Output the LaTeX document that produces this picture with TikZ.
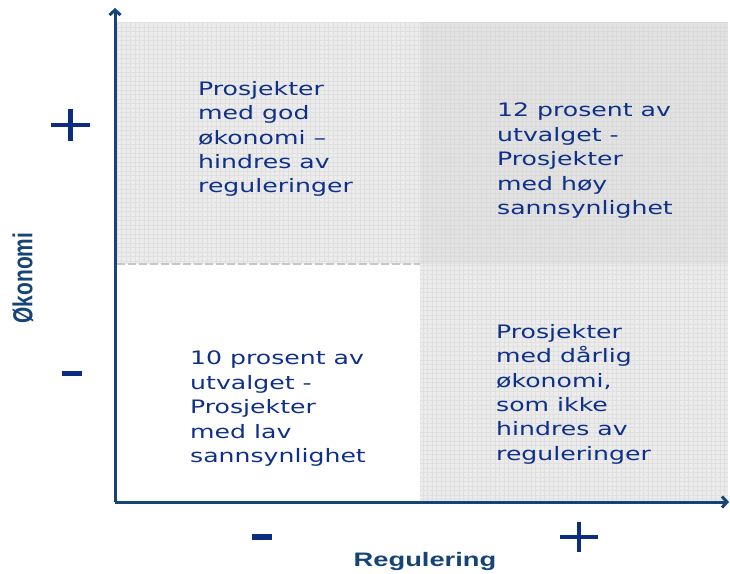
\documentclass[tikz,border=0pt]{standalone}
\usepackage{fontspec}
\usetikzlibrary{arrows.meta}
\newfontfamily\bodyfont[FakeStretch=1.36]{DejaVu Sans}
\newfontfamily\labelfont[FakeStretch=1.4]{Liberation Sans}
\newfontfamily\ylabelfont{Liberation Sans}
\definecolor{txtblue}{RGB}{14,48,136}
\definecolor{axisblue}{RGB}{22,68,118}
\definecolor{signblue}{RGB}{12,44,130}
\definecolor{cellA}{RGB}{236,236,236}
\definecolor{cellB}{RGB}{226,226,226}
\definecolor{gridc}{RGB}{224,224,224}
\tikzset{
  quadtext/.style={anchor=north west, inner sep=0pt, align=left, text=txtblue,
    font=\bodyfont\fontsize{18.5}{24.4}\selectfont},
  axislabel/.style={inner sep=0pt, text=axisblue, font=\labelfont\bfseries\fontsize{19.5}{22}\selectfont},
  ylabelstyle/.style={inner sep=0pt, text=axisblue, font=\ylabelfont\bfseries\fontsize{22}{24}\selectfont},
  axisline/.style={draw=axisblue, line width=3pt, -{Straight Barb[length=5pt,width=11pt]}},
  sign/.style={draw=signblue, line width=4.5pt},
}
\begin{document}
\begin{tikzpicture}[x=1pt,y=-1pt]
\useasboundingbox (0,0) rectangle (730,573);
% quadrant backgrounds
\fill[cellA] (117,22) rectangle (420,264);
\fill[cellB] (420,22) rectangle (728,264);
\fill[cellA] (420,264) rectangle (728,502);
\begin{scope}
\clip (117,22) rectangle (420,264);
\draw[gridc, line width=0.5pt, step=4.5pt] (117,22) grid (420,264);
\end{scope}
\begin{scope}
\clip (420,264) rectangle (728,502);
\draw[gridc, line width=0.5pt, step=4.5pt] (420,264) grid (728,502);
\end{scope}
\begin{scope}
\clip (420,22) rectangle (728,264);
\draw[black, line width=0.3pt, step=4.5pt, opacity=0.03] (420,22) grid (728,264);
\end{scope}
% dashed divider
\coordinate (dl) at (117,264);
\coordinate (dr) at (420,264);
\draw[draw=black!22, line width=1.2pt, dash pattern=on 8pt off 3pt] (dl) -- (dr);
% axes
\coordinate (o) at (115,502);
\coordinate (ytop) at (115,8);
\coordinate (xend) at (729,502);
\draw[axisline] (o) -- (ytop);
\draw[axisline] (o) -- (xend);
% quadrant texts
\node[quadtext] (tl) at (198,81) {Prosjekter\\med god\\økonomi –\\hindres av\\reguleringer};
\node[quadtext] (tr) at (497,103) {12 prosent av\\utvalget -\\Prosjekter\\med høy\\sannsynlighet};
\node[quadtext] (br) at (496,324) {Prosjekter\\med dårlig\\økonomi,\\som ikke\\hindres av\\reguleringer};
\node[quadtext] (bl) at (190,351) {10 prosent av\\utvalget -\\Prosjekter\\med lav\\sannsynlighet};
% signs
\coordinate (p1l) at (51,125); \coordinate (p1r) at (90,125);
\coordinate (p1t) at (70.5,109); \coordinate (p1b) at (70.5,141);
\draw[sign] (p1l) -- (p1r) (p1t) -- (p1b);
\coordinate (m1l) at (62,373.5); \coordinate (m1r) at (82,373.5);
\draw[sign] (m1l) -- (m1r);
\coordinate (m2l) at (252,537); \coordinate (m2r) at (272,537);
\draw[sign, line width=5.5pt] (m2l) -- (m2r);
\coordinate (p2l) at (560,537); \coordinate (p2r) at (598,537);
\coordinate (p2t) at (579,522); \coordinate (p2b) at (579,552);
\draw[sign] (p2l) -- (p2r) (p2t) -- (p2b);
% axis labels
\node[ylabelstyle, rotate=90] (ylab) at (23,278) {\scalebox{0.95}[1.25]{Økonomi}};
\node[axislabel] (xlab) at (425,561) {Regulering};
\end{tikzpicture}
\end{document}
